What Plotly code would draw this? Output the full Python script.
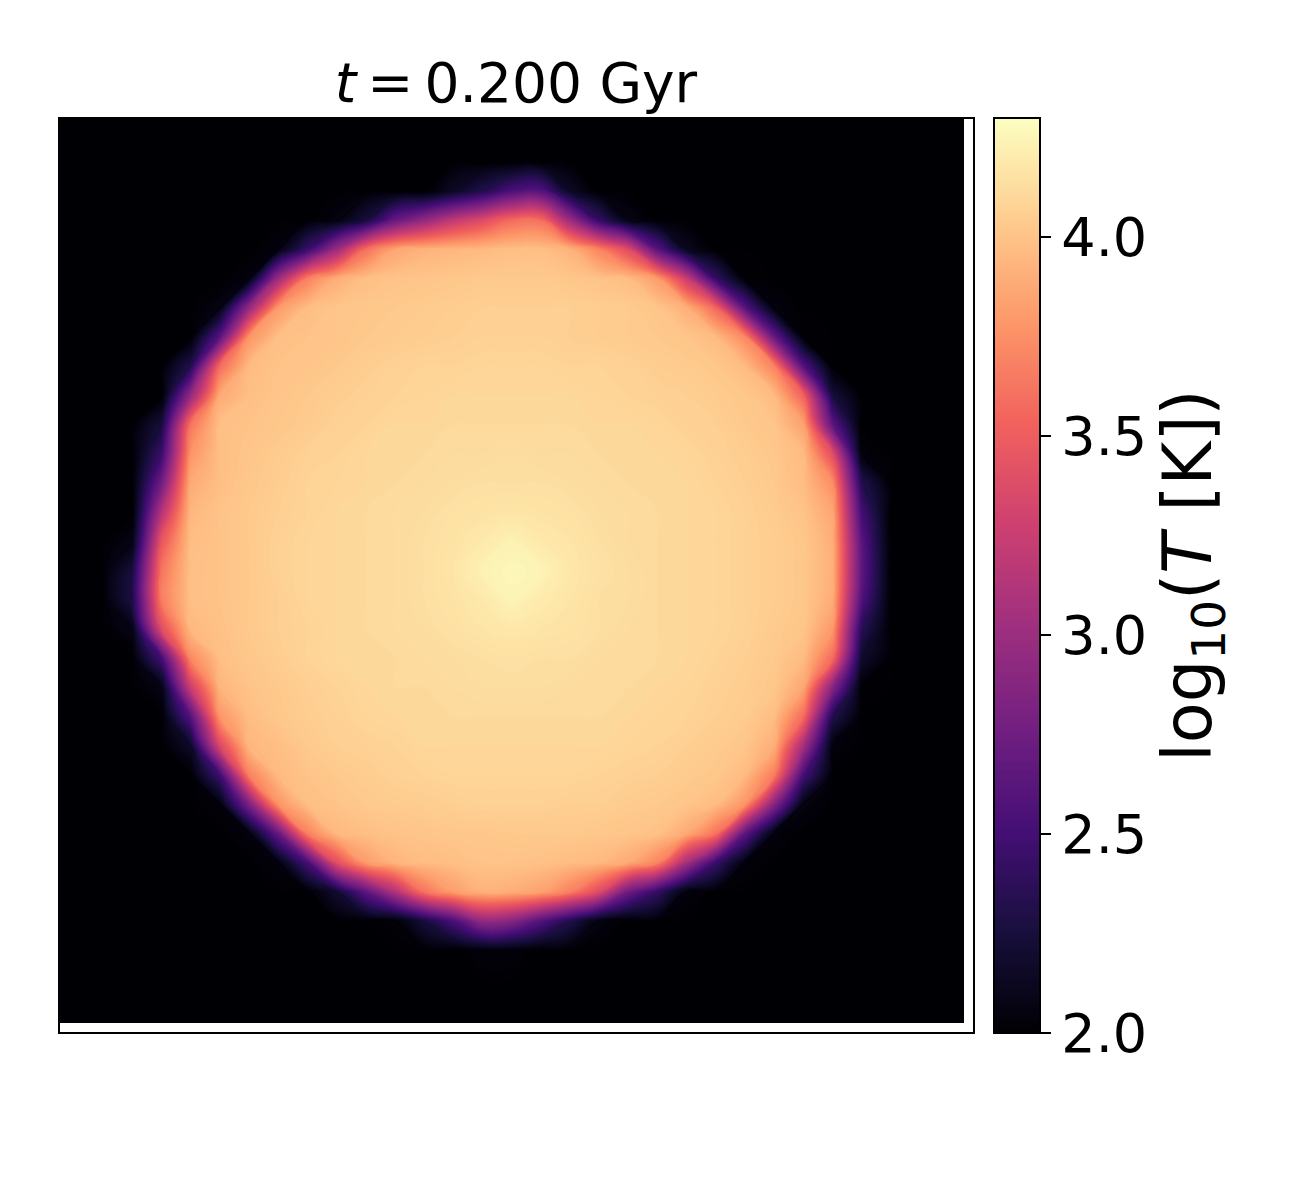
import plotly.graph_objects as go

# log10(T) x 100 on a coarse grid (one row per 29 px, top to bottom)
# each row: number of black cells on the left, then the values across the blob
N_CELLS = 31
CELL = 29.2
IMAGE_SIZE = 905
BLACK = 200

rows_read = [
    (31, []),
    (31, []),
    (13, [215, 232, 255, 260, 215]),
    (9, [205, 225, 270, 295, 320, 338, 358, 360, 300, 242, 207]),
    (7, [204, 245, 300, 360, 386, 392, 394, 396, 398, 398, 392, 370, 338, 262, 212]),
    (6, [204, 300, 368, 390, 398, 400, 401, 402, 403, 403, 403, 402, 400, 397, 381, 325, 242, 201]),
    (5, [206, 295, 380, 397, 401, 402, 403, 404, 405, 406, 406, 406, 406, 405, 404, 401, 391, 356, 262, 204]),
    (5, [262, 377, 398, 400, 401, 403, 404, 405, 406, 407, 407, 407, 406, 405, 404, 403, 401, 396, 372, 270, 201]),
    (4, [232, 358, 396, 400, 401, 403, 405, 407, 408, 408, 409, 409, 409, 408, 408, 407, 405, 404, 402, 396, 369, 260]),
    (4, [295, 388, 398, 401, 403, 405, 407, 408, 409, 410, 410, 410, 410, 410, 409, 408, 407, 406, 404, 402, 396, 353, 225]),
    (3, [225, 362, 398, 400, 402, 404, 407, 408, 410, 410, 411, 411, 411, 411, 411, 410, 410, 409, 407, 406, 403, 401, 384, 265]),
    (3, [245, 377, 398, 401, 404, 407, 408, 410, 410, 411, 412, 412, 413, 412, 412, 411, 410, 410, 409, 407, 405, 402, 396, 340, 204]),
    (3, [275, 388, 398, 402, 405, 408, 409, 410, 411, 412, 413, 414, 414, 414, 413, 412, 411, 410, 410, 408, 406, 403, 397, 374, 232]),
    (3, [312, 394, 400, 403, 406, 408, 410, 411, 412, 413, 415, 416, 417, 416, 415, 413, 412, 411, 410, 409, 407, 404, 400, 386, 250]),
    (2, [207, 345, 397, 400, 403, 407, 409, 410, 411, 412, 414, 416, 419, 423, 419, 417, 414, 412, 411, 410, 409, 407, 405, 402, 390, 262]),
    (2, [225, 362, 398, 400, 403, 407, 409, 410, 411, 412, 414, 417, 423, 426, 424, 418, 415, 413, 411, 410, 409, 407, 405, 402, 391, 265]),
    (2, [228, 366, 398, 400, 403, 406, 409, 410, 411, 412, 414, 416, 419, 424, 420, 417, 414, 413, 411, 410, 409, 407, 405, 402, 389, 258]),
    (2, [207, 338, 395, 399, 403, 406, 408, 410, 411, 412, 413, 415, 417, 418, 417, 416, 414, 412, 411, 410, 409, 407, 404, 401, 379, 235]),
    (3, [250, 372, 398, 402, 405, 408, 410, 410, 411, 412, 413, 414, 415, 414, 414, 412, 411, 411, 410, 408, 406, 403, 396, 358, 218]),
    (3, [207, 325, 393, 400, 403, 406, 408, 410, 411, 411, 412, 413, 413, 413, 412, 411, 411, 410, 409, 407, 405, 402, 386, 288, 201]),
    (4, [260, 378, 397, 402, 405, 407, 409, 410, 410, 411, 411, 411, 411, 411, 411, 410, 409, 408, 406, 404, 397, 358, 232]),
    (4, [216, 335, 394, 398, 403, 406, 407, 408, 410, 410, 410, 410, 410, 410, 410, 409, 408, 406, 404, 401, 390, 305, 204]),
    (5, [248, 368, 396, 400, 403, 405, 407, 408, 409, 409, 409, 409, 409, 408, 407, 406, 404, 402, 396, 366, 252]),
    (5, [203, 282, 377, 398, 400, 403, 404, 405, 406, 407, 407, 407, 406, 406, 404, 403, 401, 397, 377, 288, 205]),
    (6, [204, 270, 368, 395, 398, 400, 401, 402, 402, 403, 403, 403, 402, 401, 399, 388, 362, 265, 204]),
    (7, [204, 252, 340, 381, 393, 397, 398, 400, 400, 399, 397, 395, 388, 370, 305, 245, 203]),
    (9, [220, 265, 312, 362, 382, 392, 390, 384, 368, 338, 275, 242, 204]),
    (11, [202, 225, 255, 295, 288, 260, 232, 205]),
    (14, [203, 203]),
    (31, []),
    (31, []),
]

colorbar_ticks = [2.0, 2.5, 3.0, 3.5, 4.0]
colorbar_labels = ["2.0", "2.5", "3.0", "3.5", "4.0"]
T_MIN = 2.0
T_MAX = 4.3

# black border row/column so the fill reaches the image edges
grid = [CELL / 2 + CELL * i for i in range(N_CELLS)]
grid = [0] + grid + [IMAGE_SIZE]

z = [[BLACK / 100] * (N_CELLS + 2)]
for lead, vals in rows_read:
    row = [BLACK] * (lead + 1) + vals + [BLACK] * (N_CELLS - lead - len(vals) + 1)
    z.append([v / 100 for v in row])
z.append([BLACK / 100] * (N_CELLS + 2))

fig = go.Figure(
    go.Contour(
        z=z,
        x=grid,
        y=grid,
        zmin=T_MIN,
        zmax=T_MAX,
        autocontour=False,
        contours=dict(start=T_MIN, end=T_MAX, size=0.01, coloring="fill", showlines=False),
        line=dict(width=0, smoothing=1.3),
        colorscale="Magma",
        colorbar=dict(
            x=994 / 1300,
            xanchor="left",
            y=(1200 - 1033) / 1200,
            yanchor="bottom",
            len=915 / 1200,
            lenmode="fraction",
            thickness=46,
            thicknessmode="pixels",
            xpad=0,
            ypad=0,
            outlinecolor="black",
            outlinewidth=2,
            ticks="outside",
            ticklen=10,
            tickwidth=2,
            tickcolor="black",
            tickvals=colorbar_ticks,
            ticktext=colorbar_labels,
            tickfont=dict(size=54, color="black"),
            title=dict(
                text="log<sub>10</sub>(<i>T</i> [K])",
                side="right",
                font=dict(size=67, color="black"),
            ),
        ),
    )
)

fig.update_layout(
    width=1300,
    height=1200,
    margin=dict(l=0, r=0, t=0, b=0),
    paper_bgcolor="white",
    plot_bgcolor="white",
    font=dict(family="DejaVu Sans", color="black"),
    title=dict(
        text="<i>t</i>\u2009=\u20090.200 Gyr",
        font=dict(size=55, color="black"),
        x=516 / 1300,
        xanchor="center",
        y=1 - 83 / 1200,
        yanchor="middle",
    ),
    xaxis=dict(
        domain=[60 / 1300, 973 / 1300],
        range=[1, 914],
        showticklabels=False,
        ticks="",
        showgrid=False,
        zeroline=False,
        showline=True,
        mirror=True,
        linecolor="black",
        linewidth=2,
    ),
    yaxis=dict(
        domain=[(1200 - 1032) / 1200, (1200 - 119) / 1200],
        range=[914, 1],
        showticklabels=False,
        ticks="",
        showgrid=False,
        zeroline=False,
        showline=True,
        mirror=True,
        linecolor="black",
        linewidth=2,
    ),
)

# the page's default body margin would push the figure 8 px off
fig.write_html(
    "out.html",
    config=dict(displayModeBar=False),
    post_script="document.body.style.margin = '0';",
)
